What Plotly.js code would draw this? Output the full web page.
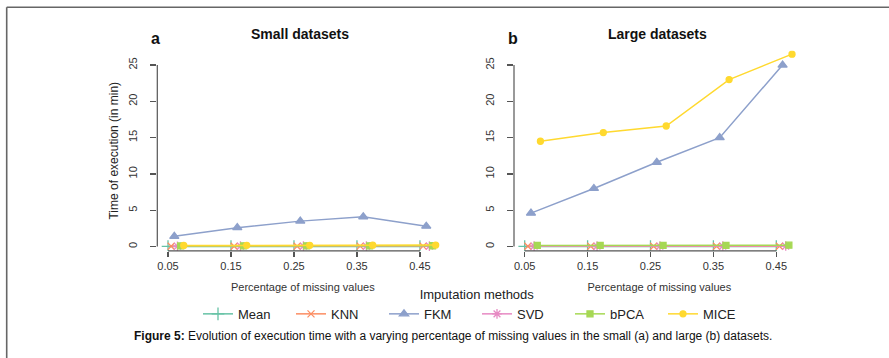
<!DOCTYPE html>
<html>
<head>
<meta charset="utf-8">
<script src="https://cdn.plot.ly/plotly-3.0.1.min.js"></script>
<style>html,body{margin:0;padding:0;background:#fff;}#chart{width:889px;height:358px;}</style>
</head>
<body>
<div id="chart"></div>
<script>
// ---- data ----
const missingPct = [0.05, 0.15, 0.25, 0.35, 0.45];
const methods = ["Mean", "KNN", "FKM", "SVD", "bPCA", "MICE"];
const smallMean = [0.01, 0.01, 0.01, 0.01, 0.01];
const smallKNN  = [0.03, 0.04, 0.04, 0.05, 0.05];
const smallFKM  = [1.4, 2.6, 3.5, 4.1, 2.8];
const smallSVD  = [0.04, 0.05, 0.05, 0.05, 0.06];
const smallBPCA = [0.08, 0.09, 0.10, 0.10, 0.11];
const smallMICE = [0.14, 0.16, 0.17, 0.18, 0.20];
const largeMean = [0.01, 0.01, 0.01, 0.01, 0.01];
const largeKNN  = [0.03, 0.03, 0.04, 0.04, 0.04];
const largeFKM  = [4.6, 8.0, 11.6, 15.0, 25.0];
const largeSVD  = [0.05, 0.06, 0.06, 0.07, 0.07];
const largeBPCA = [0.15, 0.16, 0.16, 0.17, 0.18];
const largeMICE = [14.5, 15.7, 16.6, 23.0, 26.5];
const xTicks = [0.05, 0.15, 0.25, 0.35, 0.45];
const yTicks = [0, 5, 10, 15, 20, 25];

const colors = ["#66C2A5", "#FC8D62", "#8DA0CB", "#E78AC3", "#A6D854", "#FFD92F"];
const symbols = ["cross-thin-open", "x-thin-open", "triangle-up", "asterisk-open", "square", "circle"];
const msizes = [9, 7, 8, 8, 6, 6];
const smallSeries = [smallMean, smallKNN, smallFKM, smallSVD, smallBPCA, smallMICE];
const largeSeries = [largeMean, largeKNN, largeFKM, largeSVD, largeBPCA, largeMICE];

const traces = [];
function addPanel(series, xa, ya, legend) {
  series.forEach((vals, i) => {
    traces.push({
      type: "scatter", mode: "lines+markers",
      name: methods[i],
      x: missingPct.map(v => v + i * 0.005),
      y: vals,
      xaxis: xa, yaxis: ya,
      showlegend: legend,
      legendgroup: methods[i],
      line: {color: colors[i], width: 1.5},
      marker: {symbol: symbols[i], size: msizes[i], color: colors[i],
               line: {color: colors[i], width: 1.3}}
    });
  });
}
addPanel(smallSeries, "x", "y", true);
addPanel(largeSeries, "x2", "y2", false);

const FONT = "Liberation Sans, Arial, sans-serif";
const tickFont = {family: FONT, size: 11, color: "#333"};
const axisCol = "#555";
function xaxis(domain, anchor) {
  return {domain: domain, anchor: anchor, range: [0.033, 0.495],
    tickvals: xTicks, ticktext: xTicks.map(v => v.toFixed(2)),
    ticks: "outside", ticklen: 5, tickwidth: 1.2, tickcolor: axisCol,
    showline: false, showgrid: false, zeroline: false, tickfont: tickFont,
    title: {text: "Percentage of missing values", font: {family: FONT, size: 11, color: "#333"}, standoff: 12}};
}
function yaxis(anchor, withTitle) {
  const a = {domain: [0.2992, 0.8589], anchor: anchor, range: [-0.6, 27],
    tickvals: yTicks, ticks: "outside", ticklen: 6, tickwidth: 1.2, tickcolor: axisCol,
    ticklabelstandoff: 9,
    tickangle: -90, showline: false, showgrid: false, zeroline: false, tickfont: tickFont};
  if (withTitle) a.title = {text: "Time of execution (in min)", font: {family: FONT, size: 12, color: "#222"}, standoff: 5};
  return a;
}

const shapes = [
  // outer frame (top and left)
  {type: "line", xref: "paper", yref: "paper", x0: 6.7/889, x1: 1, y0: 1 - 7.3/358, y1: 1 - 7.3/358, line: {color: "#666", width: 1.6}},
  {type: "line", xref: "paper", yref: "paper", x0: 6.7/889, x1: 6.7/889, y0: 0, y1: 1 - 7.3/358, line: {color: "#666", width: 1.6}}
];
[["x", "y"], ["x2", "y2"]].forEach(([xa, ya]) => {
  shapes.push({type: "line", xref: xa, yref: ya + " domain", x0: xTicks[0], x1: xTicks[xTicks.length - 1], y0: 0, y1: 0, line: {color: axisCol, width: 1.2}});
  shapes.push({type: "line", xref: xa + " domain", yref: ya, x0: 0, x1: 0, y0: yTicks[0], y1: yTicks[yTicks.length - 1], line: {color: axisCol, width: 1.2}});
});

const annFont = {family: FONT, color: "#111"};
function ann(text, px, py, size) {
  return {text: text, xref: "paper", yref: "paper", x: px/889, y: 1 - py/358,
    xanchor: "center", yanchor: "middle", showarrow: false, font: Object.assign({size: size}, annFont)};
}
const annotations = [
  ann("<b>Small datasets</b>", 300, 34, 14),
  ann("<b>Large datasets</b>", 657, 34, 14),
  ann("<b>a</b>", 155, 39, 16),
  ann("<b>b</b>", 513, 39, 16),
  ann("<b>Figure 5:</b> Evolution of execution time with a varying percentage of missing values in the small (a) and large (b) datasets.", 453, 336, 12)
];

const layout = {
  width: 889, height: 358,
  margin: {l: 0, r: 0, t: 0, b: 0},
  paper_bgcolor: "#fff", plot_bgcolor: "#fff",
  xaxis: xaxis([157.3/889, 448.3/889], "y"),
  yaxis: yaxis("x", true),
  xaxis2: xaxis([514/889, 804.6/889], "y2"),
  yaxis2: yaxis("x2", false),
  shapes: shapes,
  annotations: annotations,
  showlegend: true,
  legend: {orientation: "h", x: 477/889, xanchor: "center", y: 1 - 282/358, yanchor: "top",
    title: {text: "Imputation methods", side: "top center", font: {family: FONT, size: 13, color: "#222"}},
    font: {family: FONT, size: 13, color: "#222"},
    bgcolor: "rgba(0,0,0,0)", entrywidth: 48, tracegroupgap: 0, traceorder: "normal"},
  font: {family: FONT}
};

Plotly.newPlot("chart", traces, layout, {displayModeBar: false, staticPlot: true});
</script>
</body>
</html>
